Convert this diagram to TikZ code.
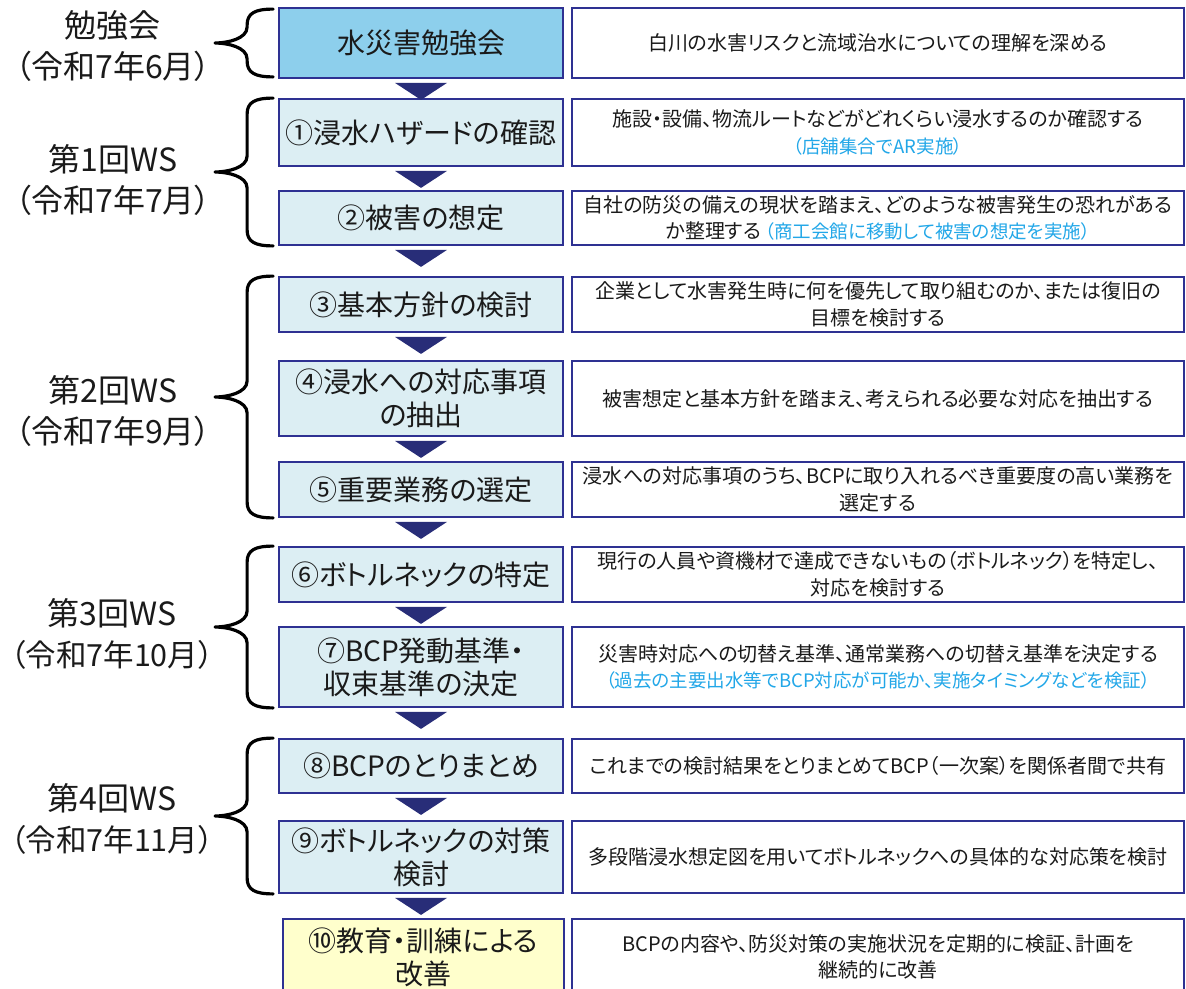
\documentclass[tikz,border=0pt]{standalone}
\usepackage{fontspec}
\setmainfont{Noto Sans CJK JP}[RawFeature=+palt]
\usetikzlibrary{calc}
\definecolor{navy}{HTML}{2E3192}
\definecolor{arrowc}{HTML}{282D78}
\definecolor{skyfill}{HTML}{8DCFEC}
\definecolor{palefill}{HTML}{DCEEF3}
\definecolor{yellowfill}{HTML}{FFFFCC}
\definecolor{notecol}{HTML}{22A7E8}
\definecolor{ink}{HTML}{1A1A1A}
\newcommand\mybrace[2]{%
  \draw[bracestyle] let \p1=(#1), \p2=(#2), \p3=($(#1)!0.5!(#2)$) in
    (\x1,\y1) .. controls ({\x1-18pt},\y1) and ({\x1-26pt},{\y1-4pt}) .. ({\x1-26pt},{\y1-16pt})
    -- ({\x1-26pt},{\y3+16pt}) .. controls ({\x1-26pt},{\y3+4pt}) and ({\x1-46pt},\y3) .. ({\x1-58pt},\y3)
    .. controls ({\x1-46pt},\y3) and ({\x1-26pt},{\y3-4pt}) .. ({\x1-26pt},{\y3-16pt})
    -- ({\x1-26pt},{\y2+16pt}) .. controls ({\x1-26pt},{\y2+4pt}) and ({\x1-18pt},\y2) .. (\x1,\y2);
}
\newcommand\flowtri[2]{%
  \fill[flowarrow] ($(#1.south)+(-26,4)$) -- ($(#1.south)+(26,4)$) -- ($(#1.south)+(0,21)$) -- cycle;
}
\newcommand\notetext[1]{{\color{notecol}\fontsize{18.5}{26}\selectfont #1}}
\newcommand\smallparen[1]{{\fontsize{30.5}{41}\selectfont #1}}
\begin{document}
\begin{tikzpicture}[x=1pt,y=-1pt,
  stepbox/.style={draw=navy, line width=1.8pt, fill=palefill, minimum width=284pt, inner sep=0pt,
    align=center, font=\fontsize{28}{33}\selectfont, text=ink},
  descbox/.style={draw=navy, line width=1.8pt, fill=white, minimum width=612pt, inner sep=0pt,
    align=center, font=\fontsize{20}{26.5}\selectfont, text=ink},
  grouplabel/.style={align=center, font=\fontsize{32}{41}\selectfont, text=ink, inner sep=0pt},
  flowarrow/.style={fill=arrowc},
  bracestyle/.style={draw=black, line width=3.2pt, line cap=round, line join=round}]
\clip (0,0) rectangle (1186,988);
\fill[white] (0,0) rectangle (1186,988);

% step boxes
\node[stepbox, fill=skyfill, minimum height=70pt] (s0) at (421,43) {水災害勉強会};
\node[stepbox, minimum height=67pt] (s1) at (421,132.5) {①浸水ハザードの確認};
\node[stepbox, minimum height=54pt] (s2) at (421,218) {②被害の想定};
\node[stepbox, minimum height=55pt] (s3) at (421,304.5) {③基本方針の検討};
\node[stepbox, minimum height=75pt] (s4) at (421,398.5) {④浸水への対応事項\\の抽出};
\node[stepbox, minimum height=55pt] (s5) at (421,489.5) {⑤重要業務の選定};
\node[stepbox, minimum height=55pt] (s6) at (421,574.5) {⑥ボトルネックの特定};
\node[stepbox, minimum height=80pt] (s7) at (421,667) {⑦BCP発動基準・\\収束基準の決定};
\node[stepbox, minimum height=54pt] (s8) at (421,766) {⑧BCPのとりまとめ};
\node[stepbox, minimum height=72pt] (s9) at (421,857) {⑨ボトルネックの対策\\検討};
\node[stepbox, fill=yellowfill, minimum width=281pt, minimum height=76pt] (s10) at (423.5,957) {⑩教育・訓練による\\改善};

% description boxes
\node[descbox, minimum height=70pt] (d0) at (878,43) {白川の水害リスクと流域治水についての理解を深める};
\node[descbox, minimum height=67pt] (d1) at (878,132.5) {施設・設備、物流ルートなどがどれくらい浸水するのか確認する\\\notetext{（店舗集合でAR実施）}};
\node[descbox, minimum height=54pt] (d2) at (878,218) {自社の防災の備えの現状を踏まえ、どのような被害発生の恐れがある\\か整理する\hspace{4pt}\notetext{（商工会館に移動して被害の想定を実施）}};
\node[descbox, minimum height=55pt] (d3) at (878,304.5) {企業として水害発生時に何を優先して取り組むのか、または復旧の\\目標を検討する};
\node[descbox, minimum height=75pt] (d4) at (878,398.5) {被害想定と基本方針を踏まえ、考えられる必要な対応を抽出する};
\node[descbox, minimum height=55pt] (d5) at (878,489.5) {浸水への対応事項のうち、BCPに取り入れるべき重要度の高い業務を\\選定する};
\node[descbox, minimum height=55pt] (d6) at (878,574.5) {現行の人員や資機材で達成できないもの（ボトルネック）を特定し、\\対応を検討する};
\node[descbox, minimum height=80pt] (d7) at (878,667) {災害時対応への切替え基準、通常業務への切替え基準を決定する\\\notetext{（過去の主要出水等でBCP対応が可能か、実施タイミングなどを検証）}};
\node[descbox, minimum height=54pt] (d8) at (878,766) {これまでの検討結果をとりまとめてBCP（一次案）を関係者間で共有};
\node[descbox, minimum height=72pt] (d9) at (878,857) {多段階浸水想定図を用いてボトルネックへの具体的な対応策を検討};
\node[descbox, minimum height=76pt] (d10) at (878,957) {BCPの内容や、防災対策の実施状況を定期的に検証、計画を\\継続的に改善};

% arrows
\flowtri{s0}{s1}
\flowtri{s1}{s2}
\flowtri{s2}{s3}
\flowtri{s3}{s4}
\flowtri{s4}{s5}
\flowtri{s5}{s6}
\flowtri{s6}{s7}
\flowtri{s7}{s8}
\flowtri{s8}{s9}
\flowtri{s9}{s10}

% braces
\coordinate (g0t) at ($(s0.north west)+(-5,2)$);
\coordinate (g0b) at ($(s0.south west)+(-5,-2)$);
\coordinate (g1t) at ($(s1.north west)+(-5,0)$);
\coordinate (g1b) at ($(s2.south west)+(-5,0)$);
\coordinate (g2t) at ($(s3.north west)+(-5,0)$);
\coordinate (g2b) at ($(s5.south west)+(-5,0)$);
\coordinate (g3t) at ($(s6.north west)+(-5,0)$);
\coordinate (g3b) at ($(s7.south west)+(-5,0)$);
\coordinate (g4t) at ($(s8.north west)+(-5,0)$);
\coordinate (g4b) at ($(s9.south west)+(-5,0)$);
\mybrace{g0t}{g0b}
\mybrace{g1t}{g1b}
\mybrace{g2t}{g2b}
\mybrace{g3t}{g3b}
\mybrace{g4t}{g4b}

% group labels
\node[grouplabel] (l0) at (113,46) {勉強会\\（令和7年6月）};
\node[grouplabel] (l1) at (113,180) {第1回WS\\（令和7年7月）};
\node[grouplabel] (l2) at (113,411) {第2回WS\\（令和7年9月）};
\node[grouplabel] (l3) at (112,634) {第3回WS\\\smallparen{（令和7年10月）}};
\node[grouplabel] (l4) at (112,819) {第4回WS\\\smallparen{（令和7年11月）}};
\end{tikzpicture}
\end{document}
